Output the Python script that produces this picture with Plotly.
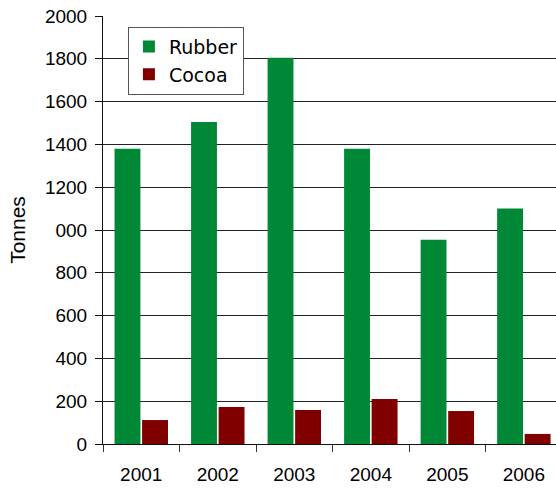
import plotly.graph_objects as go

years = ["2001", "2002", "2003", "2004", "2005", "2006"]
rubber = [1380, 1505, 1805, 1380, 955, 1100]
cocoa = [112, 173, 159, 210, 154, 47]
ytick_vals = [0, 200, 400, 600, 800, 1000, 1200, 1400, 1600, 1800, 2000]
ytick_text = ["0", "200", "400", "600", "800", "000", "1200", "1400", "1600", "1800", "2000"]

FONT = "Liberation Sans, Arial, sans-serif"

fig = go.Figure()
fig.add_trace(go.Bar(x=years, y=rubber, name="Rubber", marker=dict(color="#008837", line=dict(width=0))))
fig.add_trace(go.Bar(x=years, y=cocoa, name="Cocoa", marker=dict(color="#800000", line=dict(width=0))))

fig.update_layout(
    width=556, height=489,
    margin=dict(l=103, r=0, t=16, b=45),
    paper_bgcolor="white", plot_bgcolor="white",
    barmode="group", bargap=0.28, bargroupgap=0.06,
    font=dict(family=FONT, size=19, color="#000000"),
    showlegend=True,
    legend=dict(
        x=0.055, y=0.975, xanchor="left", yanchor="top",
        bordercolor="#555555", borderwidth=1, bgcolor="white",
        font=dict(family="DejaVu Sans, sans-serif", size=19, color="#000000"),
        itemclick=False, tracegroupgap=0,
    ),
    xaxis=dict(
        type="category", range=[-0.5, 5.42],
        tickson="boundaries", ticks="outside", ticklen=7, tickcolor="#333333",
        showline=True, linecolor="#111111", linewidth=1,
        showgrid=False, tickfont=dict(size=19), fixedrange=True,
        ticklabelstandoff=13,
    ),
    yaxis=dict(
        range=[0, 2000], tickvals=ytick_vals, ticktext=ytick_text,
        ticks="outside", ticklen=7, tickcolor="#111111",
        showline=True, linecolor="#111111", linewidth=1,
        showgrid=True, gridcolor="#222222", gridwidth=1,
        zeroline=False, tickfont=dict(size=19),
        title=dict(text="Tonnes", font=dict(size=21), standoff=13),
        ticklabelstandoff=4, fixedrange=True,
    ),
)

fig.write_html("out.html")
